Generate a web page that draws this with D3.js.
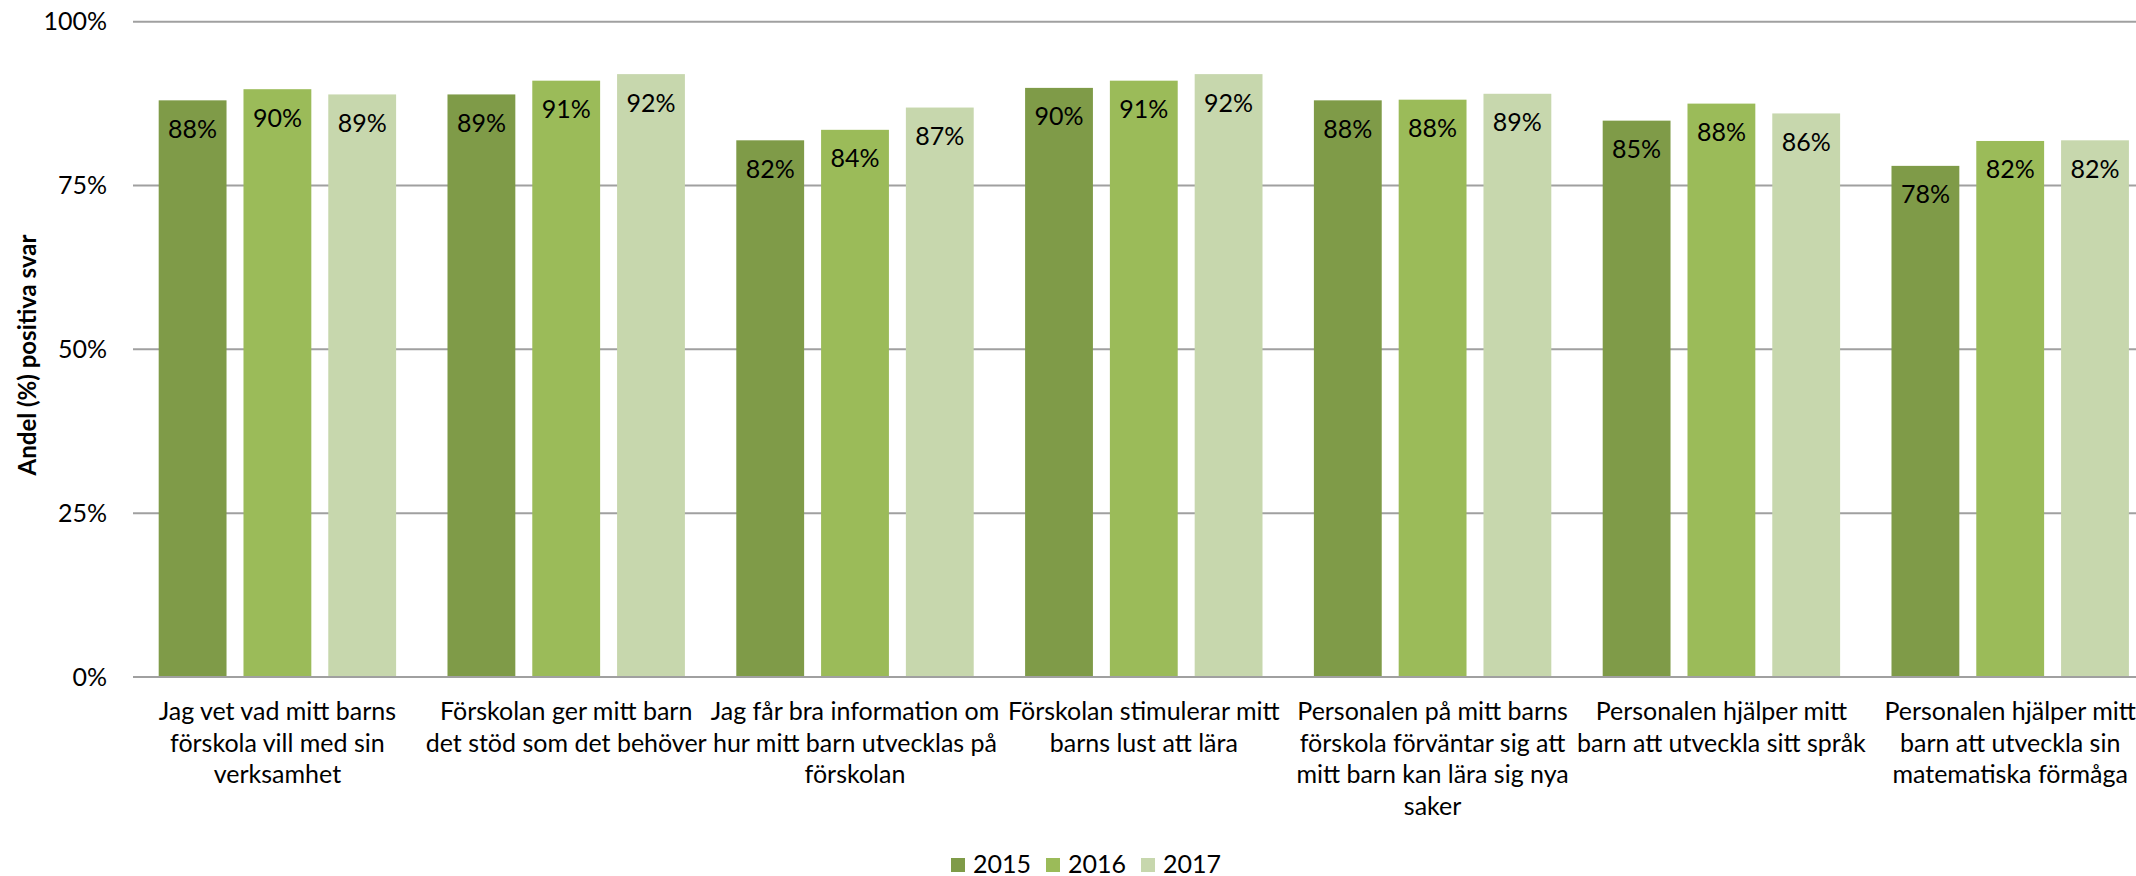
<!DOCTYPE html>
<html>
<head>
<meta charset="utf-8">
<script src="https://cdn.jsdelivr.net/npm/d3@7/dist/d3.min.js"></script>
<style>
  html, body { margin: 0; padding: 0; background: #ffffff; }
  svg { display: block; }
  text { font-family: Lato, "Open Sans", "Liberation Sans", sans-serif; }
</style>
</head>
<body>
<svg id="chart" width="2136" height="876"></svg>
<script>
// ---- data ----
const categories = [
  "Jag vet vad mitt barns förskola vill med sin verksamhet",
  "Förskolan ger mitt barn det stöd som det behöver",
  "Jag får bra information om hur mitt barn utvecklas på förskolan",
  "Förskolan stimulerar mitt barns lust att lära",
  "Personalen på mitt barns förskola förväntar sig att mitt barn kan lära sig nya saker",
  "Personalen hjälper mitt barn att utveckla sitt språk",
  "Personalen hjälper mitt barn att utveckla sin matematiska förmåga"
];
const categoryLines = [
  ["Jag vet vad mitt barns", "förskola vill med sin", "verksamhet"],
  ["Förskolan ger mitt barn", "det stöd som det behöver"],
  ["Jag får bra information om", "hur mitt barn utvecklas på", "förskolan"],
  ["Förskolan stimulerar mitt", "barns lust att lära"],
  ["Personalen på mitt barns", "förskola förväntar sig att", "mitt barn kan lära sig nya", "saker"],
  ["Personalen hjälper mitt", "barn att utveckla sitt språk"],
  ["Personalen hjälper mitt", "barn att utveckla sin", "matematiska förmåga"]
];
const years = ["2015", "2016", "2017"];
const values2015 = [88.0, 88.9, 81.9, 89.9, 88.0, 84.9, 78.0];
const values2016 = [89.7, 91.0, 83.5, 91.0, 88.1, 87.5, 81.8];
const values2017 = [88.9, 92.0, 86.9, 92.0, 89.0, 86.0, 81.9];
const yTicks = [0, 25, 50, 75, 100];
const yTitle = "Andel (%) positiva svar";

const seriesValues = { "2015": values2015, "2016": values2016, "2017": values2017 };
const colors = { "2015": "#7f9b48", "2016": "#9bbb59", "2017": "#c7d7ad" };

// ---- layout ----
const svg = d3.select("#chart");
const W = 2136, H = 876;
const plotLeft = 133, groupStep = 288.8;
const plotTop = 21.7, plotBottom = 677;

svg.append("rect").attr("width", W).attr("height", H).attr("fill", "#fff");

const x0 = d3.scaleBand()
  .domain(categories)
  .range([plotLeft, plotLeft + groupStep * categories.length])
  .paddingInner(0).paddingOuter(0);

const x1 = d3.scaleBand()
  .domain(years)
  .range([0, x0.bandwidth()])
  .paddingInner(0.2).paddingOuter(0.303);

const y = d3.scaleLinear().domain([0, 100]).range([plotBottom, plotTop]);

// gridlines
svg.append("g").selectAll("line")
  .data(yTicks.filter(d => d > 0))
  .join("line")
  .attr("x1", plotLeft).attr("x2", W)
  .attr("y1", d => y(d)).attr("y2", d => y(d))
  .attr("stroke", "#a0a0a0").attr("stroke-width", 2);

// y axis labels
const yAxis = d3.axisLeft(y).tickValues(yTicks).tickFormat(d => d + "%").tickSize(0).tickPadding(26);
const gy = svg.append("g").attr("transform", `translate(${plotLeft},0)`).call(yAxis);
gy.select(".domain").remove();
gy.selectAll("text")
  .attr("font-family", "Lato, 'Open Sans', sans-serif")
  .attr("font-size", 25).attr("fill", "#000");

// y title
svg.append("text")
  .attr("transform", `translate(36,355) rotate(-90)`)
  .attr("text-anchor", "middle")
  .attr("font-size", 24).attr("font-weight", "bold").attr("fill", "#000")
  .text(yTitle);

// bars
const groups = svg.append("g").selectAll("g")
  .data(categories)
  .join("g")
  .attr("transform", d => `translate(${x0(d)},0)`);

groups.selectAll("rect")
  .data((c, i) => years.map(yr => ({ yr, v: seriesValues[yr][i] })))
  .join("rect")
  .attr("x", d => x1(d.yr))
  .attr("width", x1.bandwidth())
  .attr("y", d => y(d.v))
  .attr("height", d => y(0) - y(d.v))
  .attr("fill", d => colors[d.yr]);

groups.selectAll("text.val")
  .data((c, i) => years.map(yr => ({ yr, v: seriesValues[yr][i] })))
  .join("text")
  .attr("class", "val")
  .attr("x", d => x1(d.yr) + x1.bandwidth() / 2)
  .attr("y", d => y(d.v) + 37.5)
  .attr("text-anchor", "middle")
  .attr("font-size", 25).attr("fill", "#000")
  .text(d => Math.round(d.v) + "%");

// x axis line
svg.append("line")
  .attr("x1", plotLeft).attr("x2", W)
  .attr("y1", y(0)).attr("y2", y(0))
  .attr("stroke", "#a0a0a0").attr("stroke-width", 2);

// category labels
const catG = svg.append("g").selectAll("text")
  .data(categories)
  .join("text")
  .attr("text-anchor", "middle")
  .attr("font-size", 25).attr("fill", "#000")
  .attr("x", d => x0(d) + x0.bandwidth() / 2)
  .attr("y", 720);
catG.each(function(d, i) {
  const t = d3.select(this);
  categoryLines[i].forEach((ln, k) => {
    t.append("tspan")
      .attr("x", x0(d) + x0.bandwidth() / 2)
      .attr("y", 720 + k * 31.7)
      .text(ln);
  });
});

// legend
const lg = d3.scaleBand().domain(years).range([951, 951 + 3 * 95]);
const legend = svg.append("g").selectAll("g")
  .data(years)
  .join("g")
  .attr("transform", d => `translate(${lg(d)},0)`);
legend.append("rect")
  .attr("x", 0).attr("y", 858).attr("width", 14).attr("height", 14)
  .attr("fill", d => colors[d]);
legend.append("text")
  .attr("x", 22).attr("y", 872.5)
  .attr("font-size", 25).attr("fill", "#000")
  .text(d => d);
</script>
</body>
</html>
